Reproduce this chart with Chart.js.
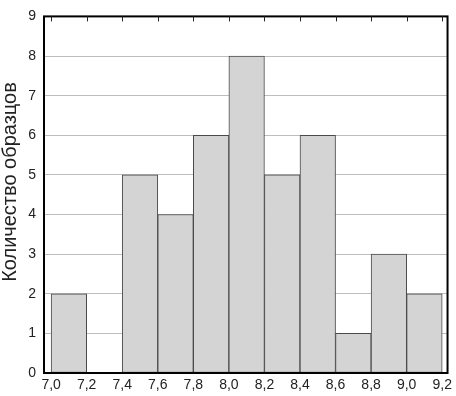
<!DOCTYPE html>
<html>
<head>
<meta charset="utf-8">
<script src="https://cdn.jsdelivr.net/npm/chart.js@4"></script>
<style>
  html, body { margin: 0; padding: 0; background: #fff; }
  #wrap { width: 456px; height: 396px; }
</style>
</head>
<body>
<div id="wrap"><canvas id="c" width="456" height="396"></canvas></div>
<script>
const binStarts = [7.0, 7.2, 7.4, 7.6, 7.8, 8.0, 8.2, 8.4, 8.6, 8.8, 9.0];
const counts = [2, 0, 5, 4, 6, 8, 5, 6, 1, 3, 2];
const binWidth = 0.2;
const xTicks = [7.0, 7.2, 7.4, 7.6, 7.8, 8.0, 8.2, 8.4, 8.6, 8.8, 9.0, 9.2];
const yTicks = [0, 1, 2, 3, 4, 5, 6, 7, 8, 9];
const yTitle = 'Количество образцов';

const FONT = 'Liberation Sans, Arial, sans-serif';

const framePlugin = {
  id: 'frame',
  afterDatasetsDraw(chart) {
    const {ctx, chartArea: a, scales} = chart;
    ctx.save();
    ctx.strokeStyle = '#000';
    ctx.lineWidth = 2;
    ctx.strokeRect(a.left, a.top, a.right - a.left, a.bottom - a.top);
    ctx.lineWidth = 1;
    ctx.strokeStyle = '#222';
    scales.x.ticks.forEach(t => {
      const px = Math.round(scales.x.getPixelForValue(t.value)) + 0.5;
      ctx.beginPath();
      ctx.moveTo(px, a.top);
      ctx.lineTo(px, a.top + 5);
      ctx.stroke();
    });
    // y axis title
    ctx.translate(10, 182);
    ctx.rotate(-Math.PI / 2);
    ctx.fillStyle = '#222';
    ctx.font = '20px ' + FONT;
    ctx.textAlign = 'center';
    ctx.textBaseline = 'middle';
    ctx.fillText(yTitle, 0, 0);
    ctx.restore();
  }
};

new Chart(document.getElementById('c'), {
  type: 'bar',
  data: {
    datasets: [{
      data: binStarts.map((s, i) => ({x: s + binWidth / 2, y: counts[i]})),
      backgroundColor: '#d4d4d4',
      borderColor: '#4a4a4a',
      borderWidth: 1,
      borderSkipped: false,
      barPercentage: 1,
      categoryPercentage: 1
    }]
  },
  options: {
    responsive: false,
    animation: false,
    devicePixelRatio: 1,
    layout: { padding: { top: 7, right: 5, left: 0, bottom: 0 } },
    plugins: { legend: { display: false }, tooltip: { enabled: false } },
    scales: {
      x: {
        type: 'linear',
        offset: false,
        min: 6.96,
        max: 9.23,
        grid: { display: false, drawTicks: false },
        border: { display: false },
        afterBuildTicks: s => { s.ticks = xTicks.map(v => ({value: v})); },
        afterFit: s => { s.height = 23; },
        ticks: {
          autoSkip: false,
          maxRotation: 0,
          padding: 4,
          color: '#222',
          font: { family: FONT, size: 14 },
          callback: v => v.toFixed(1).replace('.', ',')
        }
      },
      y: {
        min: 0,
        max: 9,
        afterBuildTicks: s => { s.ticks = yTicks.map(v => ({value: v})); },
        afterFit: s => { s.width = 44; },
        grid: { color: '#bdbdbd', lineWidth: 1, drawTicks: false },
        border: { display: false },
        ticks: {
          padding: 8,
          color: '#222',
          font: { family: FONT, size: 14 }
        },
        title: { display: false }
      }
    }
  },
  plugins: [framePlugin]
});
</script>
</body>
</html>
